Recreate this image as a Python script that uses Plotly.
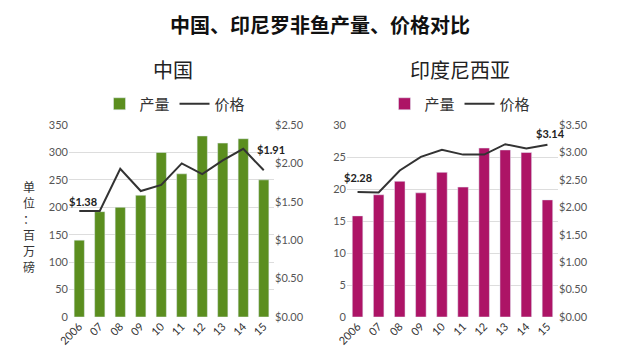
import plotly.graph_objects as go

years = ["2006", "07", "08", "09", "10", "11", "12", "13", "14", "15"]
china_output = [140, 192, 200, 222, 300, 261, 330, 317, 325, 250]
china_price = [1.38, 1.38, 1.93, 1.64, 1.72, 2.00, 1.86, 2.04, 2.19, 1.91]
indo_output = [15.8, 19.1, 21.2, 19.4, 22.6, 20.3, 26.4, 26.1, 25.7, 18.3]
indo_price = [2.28, 2.27, 2.67, 2.92, 3.05, 2.96, 2.96, 3.15, 3.07, 3.14]
unit_chars = ["单", "位", "：", "百", "万", "磅"]

GREEN = "#5b8e1f"
MAGENTA = "#ad1466"
LINE = "#333333"
FONT = "Noto Sans CJK SC"
TICK = dict(family="Lato, DejaVu Sans", size=11, color="#555555")

OFF = 8  # page body margin
W, H = 640 - OFF, 363 - OFF
def px(x): return (x - OFF) / W
def py(y): return 1 - (y - OFF) / H

fig = go.Figure()
fig.add_trace(go.Bar(x=years, y=china_output, name="产量", marker_color=GREEN,
                     xaxis="x", yaxis="y", legend="legend"))
fig.add_trace(go.Scatter(x=years, y=china_price, name="价格", mode="lines",
                         line=dict(color=LINE, width=2), xaxis="x", yaxis="y2", legend="legend"))
fig.add_trace(go.Bar(x=years, y=indo_output, name="产量", marker_color=MAGENTA,
                     xaxis="x2", yaxis="y3", legend="legend2"))
fig.add_trace(go.Scatter(x=years, y=indo_price, name="价格", mode="lines",
                         line=dict(color=LINE, width=2), xaxis="x2", yaxis="y4", legend="legend2"))

ydom = [py(317), py(125)]
grid = dict(showgrid=True, gridcolor="#dddddd", gridwidth=1, zeroline=False,
            tickfont=TICK, ticks="", showline=False, automargin=False)
xcommon = dict(type="category", categoryorder="array", categoryarray=years,
               range=[-0.5, len(years) - 0.5],
               tickangle=-45, tickfont=dict(family="Lato, DejaVu Sans", size=11, color="#333333"),
               showgrid=False, ticks="", automargin=False)
y2common = dict(tickformat="$.2f", showgrid=False, zeroline=False, tickfont=TICK, ticks="",
                side="right", automargin=False)
fig.update_layout(
    width=W, height=H, margin=dict(l=0, r=0, t=0, b=0, autoexpand=False),
    paper_bgcolor="white", plot_bgcolor="white",
    bargap=0.5, showlegend=True,
    font=dict(family=FONT, color="#222222"),
    xaxis=dict(domain=[px(69), px(274)], anchor="y", **xcommon),
    yaxis=dict(domain=ydom, range=[0, 350], dtick=50, anchor="x", **grid),
    yaxis2=dict(domain=ydom, range=[0, 2.5], dtick=0.5, overlaying="y", anchor="x", **y2common),
    xaxis2=dict(domain=[px(347), px(558)], anchor="y3", **xcommon),
    yaxis3=dict(domain=ydom, range=[0, 30], dtick=5, anchor="x2", **grid),
    yaxis4=dict(domain=ydom, range=[0, 3.5], dtick=0.5, overlaying="y3", anchor="x2", **y2common),
    legend=dict(orientation="h", x=px(175), y=py(104), xanchor="center", yanchor="middle",
                font=dict(family=FONT, size=15, color="#333333"), bgcolor="rgba(0,0,0,0)"),
    legend2=dict(orientation="h", x=px(460), y=py(104), xanchor="center", yanchor="middle",
                 font=dict(family=FONT, size=15, color="#333333"), bgcolor="rgba(0,0,0,0)"),
)

annots = [
    dict(text="<b>中国、印尼罗非鱼产量、价格对比</b>", x=px(320), y=py(24), size=20, color="#111111"),
    dict(text="中国", x=px(173), y=py(70), size=20, color="#222222"),
    dict(text="印度尼西亚", x=px(460), y=py(70), size=20, color="#222222"),
]
for i, ch in enumerate(unit_chars):
    annots.append(dict(text=ch, x=px(29), y=py(186 + 16 * i), size=12, color="#333333"))
for a in annots:
    fig.add_annotation(text=a["text"], x=a["x"], y=a["y"], xref="paper", yref="paper",
                       showarrow=False, xanchor="center", yanchor="middle",
                       font=dict(family=FONT, size=a["size"], color=a["color"]))

# price labels (category axis positions are indices)
first, last = 0, len(years) - 1
lab = dict(family="Lato, DejaVu Sans", size=11, color="#222222")
fig.add_annotation(text="<b>$%.2f</b>" % china_price[first], x=first, y=china_price[first], xref="x", yref="y2",
                   showarrow=False, yshift=10, xshift=4, font=lab)
fig.add_annotation(text="<b>$%.2f</b>" % china_price[last], x=last, y=china_price[last], xref="x", yref="y2",
                   showarrow=False, yshift=21, xshift=7, font=lab)
fig.add_annotation(text="<b>$%.2f</b>" % indo_price[first], x=first, y=indo_price[first], xref="x2", yref="y4",
                   showarrow=False, yshift=14, xshift=0, font=lab)
fig.add_annotation(text="<b>$%.2f</b>" % indo_price[last], x=last, y=indo_price[last], xref="x2", yref="y4",
                   showarrow=False, yshift=11, xshift=3, font=lab)

fig.write_html("out.html")
